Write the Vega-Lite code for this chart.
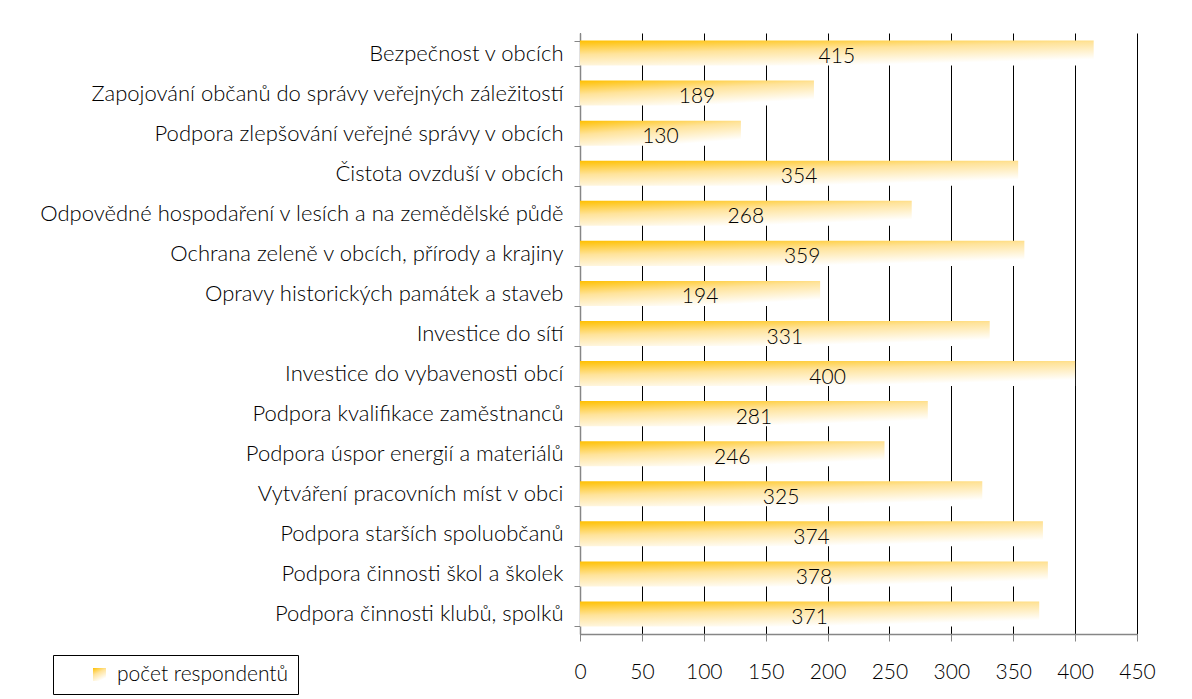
{
  "$schema": "https://vega.github.io/schema/vega-lite/v6.json",
  "autosize": "none",
  "width": 557,
  "height": 601,
  "padding": {"left": 580, "top": 33, "right": 55, "bottom": 65},
  "background": "white",
  "config": {
    "view": {"stroke": null},
    "font": "Lato",
    "axis": {"labelFont": "Lato", "labelColor": "#000000"},
    "legend": {"labelFont": "Lato"}
  },
  "data": {
    "values": [
      {"oblast": "Bezpečnost v obcích\u00a0", "pocet": 415, "serie": "počet respondentů"},
      {"oblast": "Zapojování občanů do správy veřejných záležitostí", "pocet": 189, "serie": "počet respondentů"},
      {"oblast": "Podpora zlepšování veřejné správy v obcích", "pocet": 130, "serie": "počet respondentů"},
      {"oblast": "Čistota ovzduší v obcích", "pocet": 354, "serie": "počet respondentů"},
      {"oblast": "Odpovědné hospodaření v lesích a na zemědělské půdě", "pocet": 268, "serie": "počet respondentů"},
      {"oblast": "Ochrana zeleně v obcích, přírody a krajiny", "pocet": 359, "serie": "počet respondentů"},
      {"oblast": "Opravy historických památek a staveb\u00a0", "pocet": 194, "serie": "počet respondentů"},
      {"oblast": "Investice do sítí\u00a0", "pocet": 331, "serie": "počet respondentů"},
      {"oblast": "Investice do vybavenosti obcí\u00a0", "pocet": 400, "serie": "počet respondentů"},
      {"oblast": "Podpora kvalifikace zaměstnanců", "pocet": 281, "serie": "počet respondentů"},
      {"oblast": "Podpora úspor energií a materiálů", "pocet": 246, "serie": "počet respondentů"},
      {"oblast": "Vytváření pracovních míst v obci", "pocet": 325, "serie": "počet respondentů"},
      {"oblast": "Podpora starších spoluobčanů", "pocet": 374, "serie": "počet respondentů"},
      {"oblast": "Podpora činnosti škol a školek", "pocet": 378, "serie": "počet respondentů"},
      {"oblast": "Podpora činnosti klubů, spolků", "pocet": 371, "serie": "počet respondentů"}
    ]
  },
  "encoding": {
    "y": {
      "field": "oblast",
      "type": "nominal",
      "sort": null,
      "title": null,
      "scale": {"paddingInner": 0.375, "paddingOuter": 0.1875},
      "axis": {
        "tickBand": "extent",
        "tickSize": 6,
        "tickColor": "#868686",
        "domainColor": "#868686",
        "domainWidth": 1.5,
        "labelFontSize": 22,
        "labelFontWeight": 300,
        "labelPadding": 11,
        "labelLimit": 700
      }
    }
  },
  "layer": [
    {
      "mark": {
        "type": "bar",
        "fill": {
          "gradient": "linear",
          "x1": 0, "y1": 0, "x2": 0.5, "y2": 1,
          "stops": [
            {"offset": 0, "color": "#FFC000"},
            {"offset": 0.45, "color": "#FFE39A"},
            {"offset": 1, "color": "#FFFFFF"}
          ]
        }
      },
      "encoding": {
        "x": {
          "field": "pocet",
          "type": "quantitative",
          "title": null,
          "scale": {"domain": [0, 450], "nice": false},
          "axis": {
            "values": [0, 50, 100, 150, 200, 250, 300, 350, 400, 450],
            "grid": true,
            "gridColor": "#000000",
            "gridWidth": 1,
            "tickSize": 7,
            "tickColor": "#868686",
            "domainColor": "#868686",
            "domainWidth": 1.5,
            "labelFontSize": 21,
            "labelFontWeight": 300,
            "labelPadding": 20,
            "labelFlush": false
          }
        },
        "opacity": {
          "field": "serie",
          "type": "ordinal",
          "title": null,
          "scale": {"range": [1]},
          "legend": {
            "orient": "none",
            "legendX": -527,
            "legendY": 622,
            "strokeColor": "#000000",
            "padding": 9,
            "symbolType": "square",
            "symbolSize": 169,
            "symbolStrokeWidth": 0,
            "symbolOffset": 27,
            "labelFontSize": 21,
            "labelFontWeight": 300,
            "labelOffset": 7,
            "labelColor": "#000000",
            "labelLimit": 400,
            "encode": {
              "symbols": {
                "update": {
                  "fill": {
                    "value": {
                      "gradient": "linear",
                      "x1": 0, "y1": 0, "x2": 1, "y2": 1,
                      "stops": [
                        {"offset": 0, "color": "#FFC000"},
                        {"offset": 0.5, "color": "#FFE39A"},
                        {"offset": 1, "color": "#FFFFFF"}
                      ]
                    }
                  },
                  "opacity": {"value": 1},
                  "strokeWidth": {"value": 0}
                }
              }
            }
          }
        }
      }
    },
    {
      "mark": {
        "type": "text",
        "fontSize": 21,
        "fontWeight": 300,
        "color": "#000000",
        "align": "center",
        "baseline": "middle",
        "dy": 4,
        "dx": {"expr": "-scale('x', datum.pocet) / 2"}
      },
      "encoding": {
        "x": {"field": "pocet", "type": "quantitative"},
        "text": {"field": "pocet", "type": "quantitative"}
      }
    }
  ]
}
